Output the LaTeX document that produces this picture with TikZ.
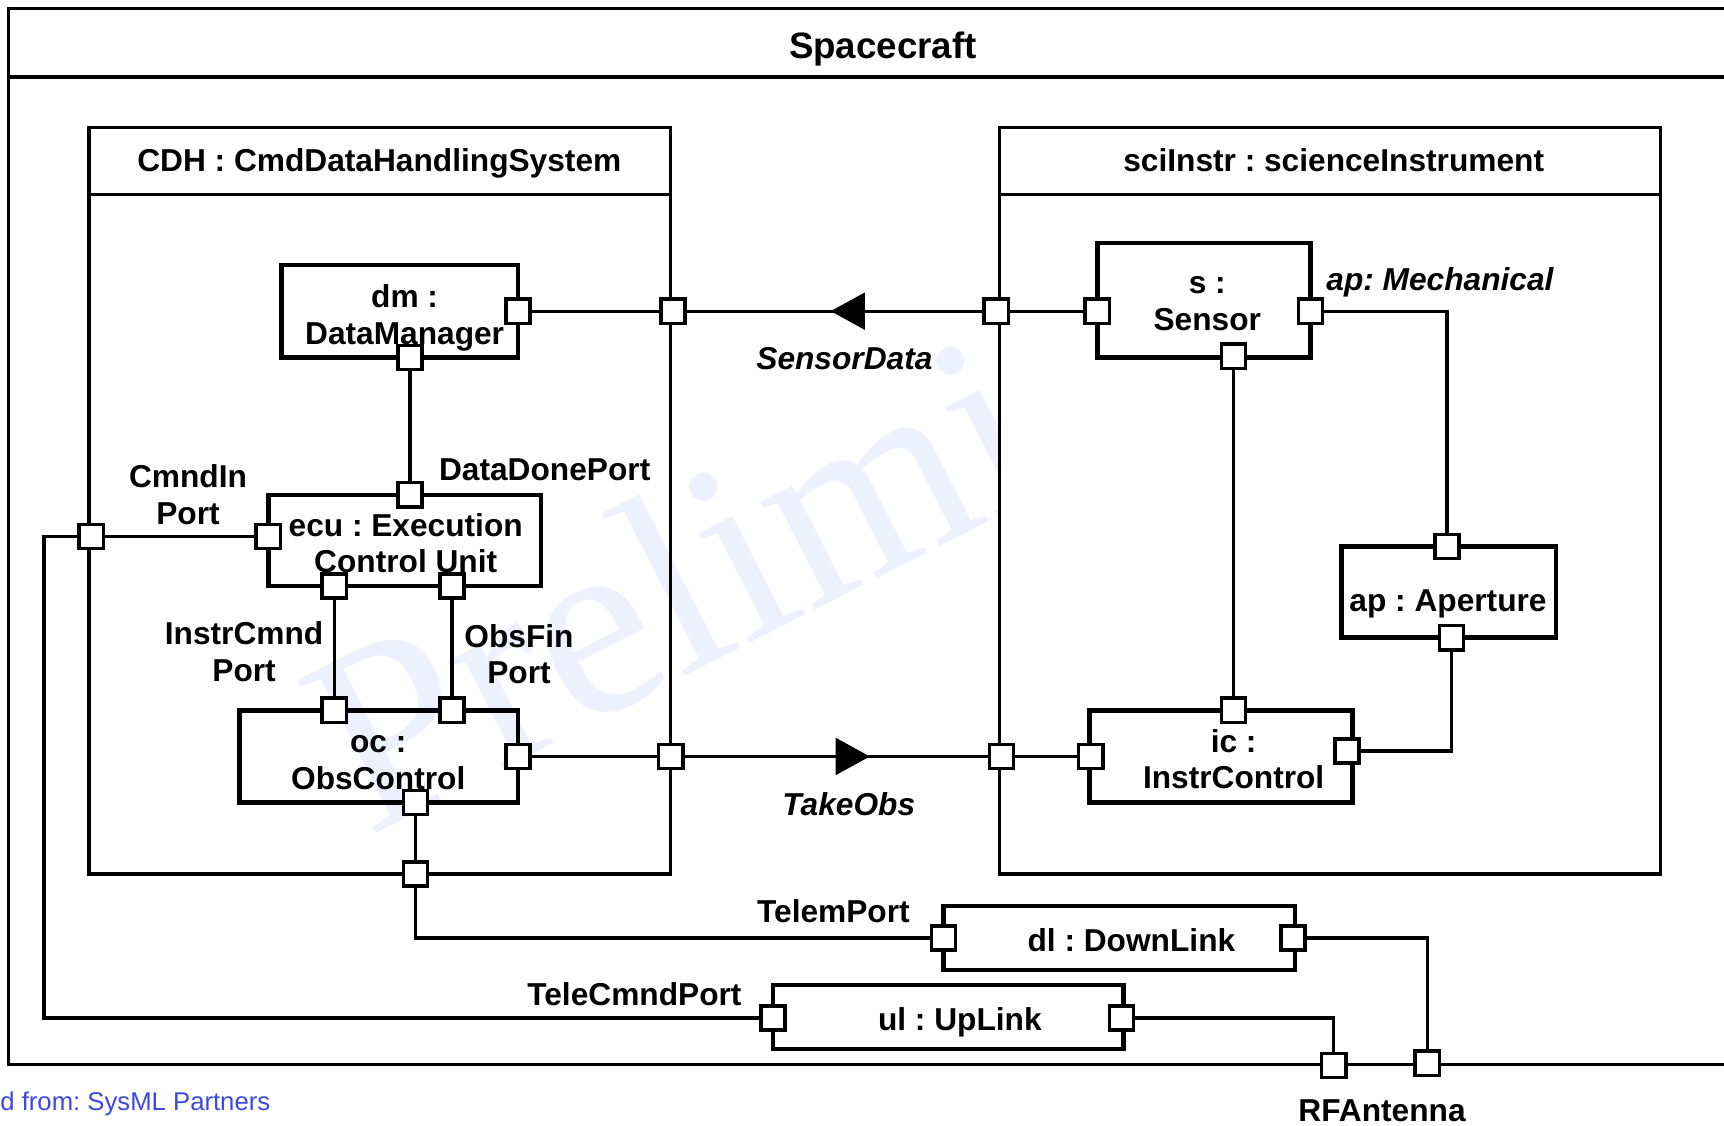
\documentclass[tikz,border=0pt]{standalone}
\usepackage{fontspec}
\setmainfont{Liberation Sans}
\newfontfamily\wmfont{Liberation Serif}
\usepackage{tikz}
\usetikzlibrary{shapes.geometric}
\definecolor{sysDark}{gray}{0.00}
\definecolor{sysMark}{RGB}{236,241,253}
\definecolor{sysNote}{RGB}{60,72,222}
\newcommand{\lblsize}{\fontsize{16.4}{19}\selectfont}
\frenchspacing

\begin{document}
\begin{tikzpicture}[x=0.02cm, y=-0.02cm,
      frame/.style={draw=sysDark, line width=1.7pt},
      part/.style={draw=sysDark, line width=2.3pt, inner sep=0pt},
      port/.style={draw=sysDark, line width=1.8pt, fill=white,
                   minimum size=0.44cm, inner sep=0pt},
      conn/.style={draw=sysDark, line width=1.7pt},
      flowtip/.style={isosceles triangle, isosceles triangle stretches,
                      fill=sysDark, inner sep=0pt,
                      minimum height=0.62cm, minimum width=0.68cm},
      title/.style={font=\bfseries\lblsize, inner sep=0pt},
      lbl/.style={font=\bfseries\lblsize, align=center, inner sep=0pt},
      ilbl/.style={font=\bfseries\itshape\lblsize, inner sep=0pt}]
    \useasboundingbox (0,0) rectangle (1568,1024);
    % watermark
    \node[rotate=27, anchor=base west, text=sysMark, inner sep=0pt,
          font=\wmfont\fontsize{136}{136}\selectfont] (mark) at (335,762) {Preliminary};

    % spacecraft frame
    \draw[frame] (1568,8) -- (8,8) -- (8,968) -- (1568,968);
    \draw[frame] (8,70) -- (1568,70);
    \node[title, font=\bfseries\fontsize{19}{22}\selectfont] (sc) at (803,45) {Spacecraft};

    % CDH and sciInstr frames
    \draw[frame] (81,116) rectangle (610,795);
    \draw[frame] (81,177) -- (610,177);
    \node[title] (cdh) at (345,149) {CDH : CmdDataHandlingSystem};
    \draw[frame, fill=white] (909,116) rectangle (1510,795);
    \draw[frame] (909,177) -- (1510,177);
    \node[title] (sci) at (1213,146) {sciInstr : scienceInstrument};

    % parts
    \node[part, minimum width=4.30cm, minimum height=1.68cm] (dm)  at (363.5,283) {};
    \node[part, minimum width=4.96cm, minimum height=1.66cm] (ecu) at (368,491.5) {};
    \node[part, minimum width=5.06cm, minimum height=1.68cm] (oc)  at (344.5,688) {};
    \node[part, minimum width=3.88cm, minimum height=2.08cm] (sen) at (1095,273) {};
    \node[part, minimum width=3.90cm, minimum height=1.66cm] (ap)  at (1317.5,538.5) {};
    \node[part, minimum width=4.78cm, minimum height=1.68cm] (ic)  at (1110.5,688) {};
    \node[part, minimum width=6.40cm, minimum height=1.16cm] (dl)  at (1018,853) {};
    \node[part, minimum width=6.38cm, minimum height=1.16cm] (ul)  at (862.5,925) {};
    \node[lbl] (dmT)  at (368,289)    {dm :\\DataManager};
    \node[lbl] (ecuT) at (369,494)    {ecu : Execution\\Control Unit};
    \node[lbl] (ocT)  at (344,693.5)  {oc :\\ObsControl};
    \node[lbl] (senT) at (1098,276)   {s :\\Sensor};
    \node[lbl] (apT)  at (1317,549.5) {ap : Aperture};
    \node[lbl] (icT)  at (1122,690.5) {ic :\\InstrControl};
    \node[lbl] (dlT)  at (1029,855)   {dl : DownLink};
    \node[lbl] (ulT)  at (873,930)    {ul : UpLink};

    % ports
    \node[port] (dmR)   at (471,283) {};
    \node[port] (dmB)   at (373,325) {};
    \node[port] (cdhR1) at (612,283) {};
    \node[port] (siL1)  at (906,283) {};
    \node[port] (senL)  at (998,283) {};
    \node[port] (senR)  at (1192,283) {};
    \node[port] (senB)  at (1122,324) {};
    \node[port] (apPT)  at (1316,497) {};
    \node[port] (apPB)  at (1320,580) {};
    \node[port] (icPT)  at (1122,646) {};
    \node[port] (icL)   at (992,688) {};
    \node[port] (icR)   at (1225,683) {};
    \node[port] (siL2)  at (911,688) {};
    \node[port] (cdhR2) at (610,688) {};
    \node[port] (ecuPT) at (373,450) {};
    \node[port] (ecuL)  at (244,488) {};
    \node[port] (ecuB1) at (304,533) {};
    \node[port] (ecuB2) at (411,533) {};
    \node[port] (cdhL)  at (83,488) {};
    \node[port] (ocT1)  at (304,646) {};
    \node[port] (ocT2)  at (411,646) {};
    \node[port] (ocR)   at (471,688) {};
    \node[port] (ocB)   at (378,730) {};
    \node[port] (cdhB)  at (378,795) {};
    \node[port] (dlL)   at (858,853) {};
    \node[port] (dlR)   at (1176,853) {};
    \node[port] (ulL)   at (703,926) {};
    \node[port] (ulR)   at (1020,926) {};
    \node[port] (rfA)   at (1213,969) {};
    \node[port] (rfB)   at (1298,967) {};
    \coordinate (cmdBend) at (40,488);

    % connectors
    \draw[conn] (dmR) -- (cdhR1);
    \draw[conn] (siL1) -- node[flowtip, pos=0.435, shape border rotate=180] (sdTip) {} (cdhR1);
    \draw[conn] (siL1) -- (senL);
    \draw[conn] (senR) -| (apPT);
    \draw[conn] (senB) -- (icPT);
    \draw[conn] (apPB) |- (icR);
    \draw[conn] (icL) -- (siL2);
    \draw[conn] (cdhR2) -- node[flowtip, pos=0.535] (toTip) {} (siL2);
    \draw[conn] (ocR) -- (cdhR2);
    \draw[conn] (dmB) -- (ecuPT);
    \draw[conn] (ecuL) -- (cdhL);
    \draw[conn] (cdhL) -- (cmdBend) |- (ulL);
    \draw[conn] (ecuB1) -- (ocT1);
    \draw[conn] (ecuB2) -- (ocT2);
    \draw[conn] (ocB) -- (cdhB);
    \draw[conn] (cdhB) |- (dlL);
    \draw[conn] (dlR) -| (rfB);
    \draw[conn] (ulR) -| (rfA);

    % port and flow labels
    \node[lbl, anchor=west] (ddpL) at (399,427) {DataDonePort};
    \node[lbl] (cinL)  at (171,450) {CmndIn\\Port};
    \node[lbl] (icpL)  at (222,593) {InstrCmnd\\Port};
    \node[lbl] (ofpL)  at (472,595) {ObsFin\\Port};
    \node[lbl] (tmpL)  at (758,829) {TelemPort};
    \node[lbl] (tcpL)  at (577,904) {TeleCmndPort};
    \node[lbl] (rfL)   at (1257,1010) {RFAntenna};
    \node[ilbl] (sdL)  at (768,326) {SensorData};
    \node[ilbl] (toL)  at (772,731) {TakeObs};
    \node[ilbl, anchor=west] (mechL) at (1206,257) {ap: Mechanical};
    \node[anchor=west, text=sysNote, inner sep=0pt,
          font=\fontsize{13.3}{15}\selectfont] (src) at (0,1004) {d from: SysML Partners};
  \end{tikzpicture}
\end{document}
